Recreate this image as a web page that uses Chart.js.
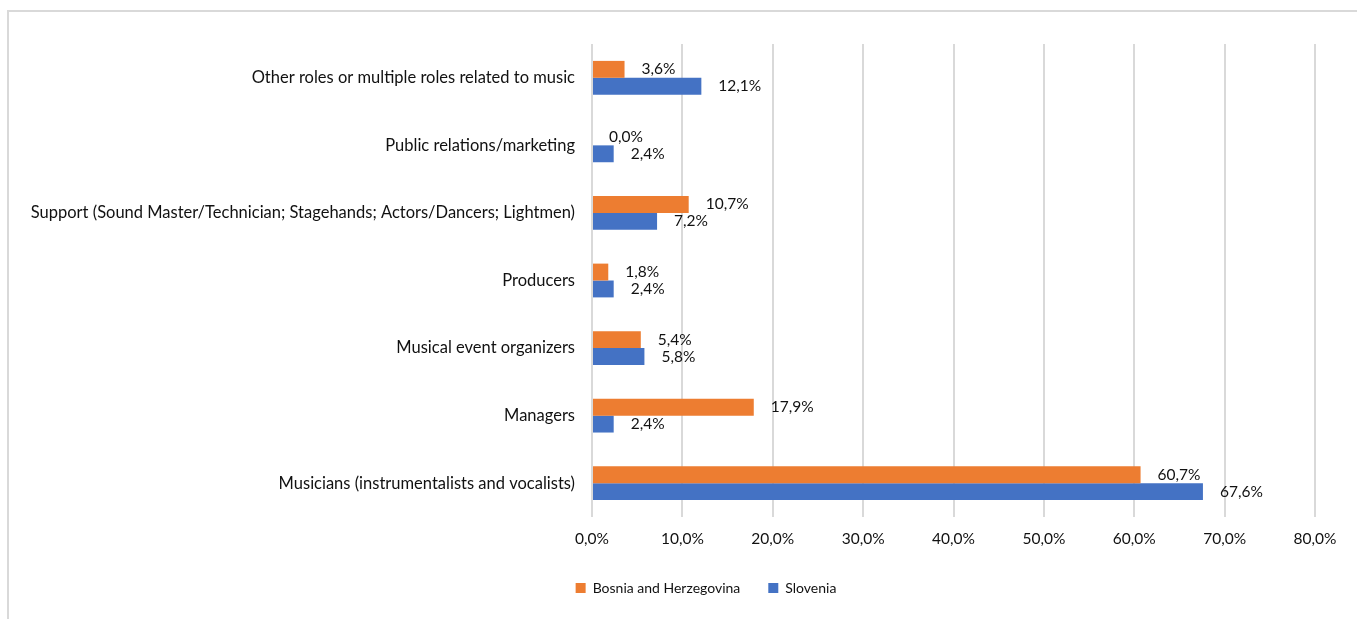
<!DOCTYPE html>
<html>
<head>
<meta charset="utf-8">
<script src="https://cdn.jsdelivr.net/npm/chart.js"></script>
<style>
  html, body { margin: 0; padding: 0; background: #fff; overflow: hidden; }
  .frame {
    position: absolute;
    left: 7px;
    top: 10px;
    width: 1394px;
    height: 640px;
    border: 2px solid #d9d9d9;
  }
  .frame canvas { display: block; }
</style>
</head>
<body>
<div class="frame">
  <canvas id="chart" width="1394" height="620"></canvas>
</div>
<script>
// roles, top to bottom
const roles = [
  "Other roles or multiple roles related to music",
  "Public relations/marketing",
  "Support (Sound Master/Technician; Stagehands; Actors/Dancers; Lightmen)",
  "Producers",
  "Musical event organizers",
  "Managers",
  "Musicians (instrumentalists and vocalists)"
];
const bosnia = [3.6, 0.0, 10.7, 1.8, 5.4, 17.9, 60.7];
const slovenia = [12.1, 2.4, 7.2, 2.4, 5.8, 2.4, 67.6];
const xTicks = [0, 10, 20, 30, 40, 50, 60, 70, 80];

const FONT = "Lato, 'Open Sans', sans-serif";
const TEXT = "#111";

const pct = (v) => v.toFixed(1).replace(".", ",") + "%";

// value labels just past the end of each bar
const barLabels = {
  id: "barLabels",
  afterDatasetsDraw(chart) {
    const ctx = chart.ctx;
    ctx.save();
    ctx.font = "15.5px " + FONT;
    ctx.fillStyle = TEXT;
    ctx.textAlign = "left";
    ctx.textBaseline = "middle";
    chart.data.datasets.forEach((ds, i) => {
      chart.getDatasetMeta(i).data.forEach((bar, j) => {
        ctx.fillText(pct(ds.data[j]), bar.x + 17, bar.y);
      });
    });
    ctx.restore();
  },
};

new Chart(document.getElementById("chart"), {
  type: "bar",
  data: {
    labels: roles,
    datasets: [
      {
        label: "Bosnia and Herzegovina",
        data: bosnia,
        backgroundColor: "#ED7D31",
      },
      {
        label: "Slovenia",
        data: slovenia,
        backgroundColor: "#4472C4",
      },
    ],
  },
  options: {
    indexAxis: "y",
    responsive: false,
    animation: false,
    layout: { padding: { top: 32, right: 0, bottom: 27, left: 0 } },
    datasets: {
      bar: { categoryPercentage: 0.5, barPercentage: 1.0 },
    },
    scales: {
      x: {
        min: 0,
        max: 80,
        afterBuildTicks: (scale) => {
          scale.ticks = xTicks.map((v) => ({ value: v }));
        },
        afterFit: (scale) => {
          scale.height = 36;
        },
        grid: { color: "#d9d9d9", lineWidth: 2, drawTicks: false },
        border: { display: false },
        ticks: {
          padding: 13,
          color: TEXT,
          font: { family: FONT, size: 15.5 },
          callback: (v) => pct(v),
        },
      },
      y: {
        afterFit: (scale) => {
          scale.width = 583;
        },
        grid: { display: false, drawTicks: false },
        border: { display: false },
        ticks: {
          padding: 17,
          color: TEXT,
          font: { family: FONT, size: 16.5 },
        },
      },
      // empty strip on the right so the legend stays centred on the frame
      spacer: {
        type: "category",
        position: "right",
        afterFit: (scale) => {
          scale.width = 88;
        },
        grid: { display: false, drawTicks: false },
        border: { display: false },
        ticks: { display: false },
      },
    },
    plugins: {
      legend: {
        position: "bottom",
        labels: {
          boxWidth: 10,
          boxHeight: 10,
          padding: 28,
          color: TEXT,
          font: { family: FONT, size: 14 },
        },
      },
      tooltip: { enabled: false },
    },
  },
  plugins: [barLabels],
});
</script>
</body>
</html>
